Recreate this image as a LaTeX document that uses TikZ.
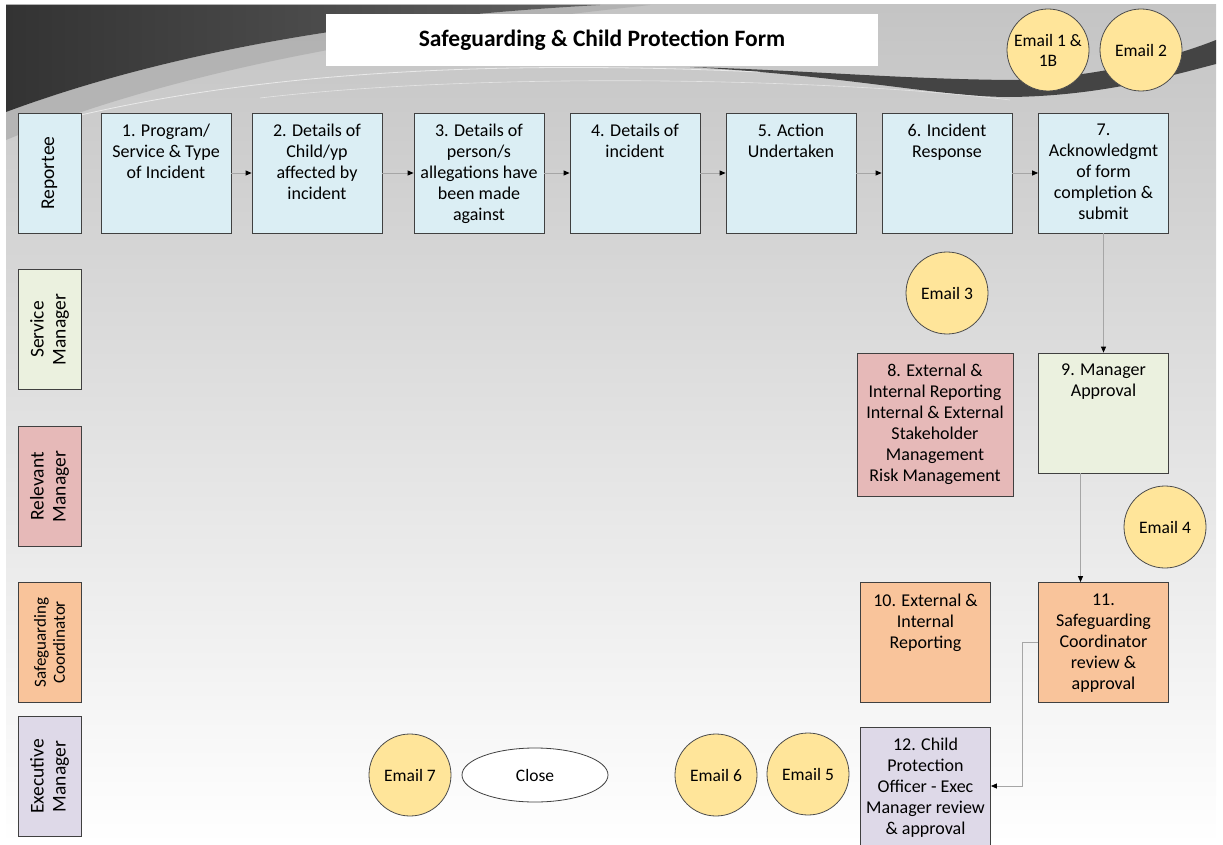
\documentclass[tikz,border=0pt]{standalone}
\usepackage{fontspec}
\setmainfont{Carlito}
\usetikzlibrary{shapes.geometric, arrows.meta, positioning}

\definecolor{stageblue}{HTML}{DBEEF4}
\definecolor{stagegreen}{HTML}{EBF1DF}
\definecolor{stagepink}{HTML}{E6B9B8}
\definecolor{stageorange}{HTML}{F9C49B}
\definecolor{stagelilac}{HTML}{DED9E8}
\definecolor{emailyellow}{HTML}{FFE59A}
\definecolor{bgtop}{HTML}{C4C4C4}
\definecolor{bgmid}{HTML}{E2E2E2}
\definecolor{swoosh}{HTML}{444444}

\tikzset{
    stage/.style={draw=black!75, line width=0.8pt, minimum width=130pt,
        minimum height=120pt, inner sep=0pt, label={[stagetxt]north:{#1}}},
    stagetxt/.style={anchor=north, yshift=-8pt, align=center,
        font=\fontsize{18}{21}\selectfont},
    lane/.style={draw=black!75, line width=0.8pt, minimum width=120pt,
        minimum height=63pt, inner sep=0pt, rotate=90, align=center,
        font=\fontsize{19.5}{22}\selectfont},
    email/.style={circle, draw=black!70, line width=0.8pt, fill=emailyellow,
        minimum size=82pt, inner sep=1pt, align=center,
        font=\fontsize{17.5}{20}\selectfont},
    flow/.style={draw=black!35, line width=0.8pt,
        -{Triangle[length=6pt,width=5pt,color=black]}}
}

\begin{document}
\begin{tikzpicture}[x=1pt, y=-1pt]
    \useasboundingbox (0,0) rectangle (1223,845);
    % background
    \shade[top color=bgtop, middle color=bgmid, bottom color=white]
        (6,5) rectangle (1216,845);
    \fill[black!35, opacity=.6] (6,112) .. controls (200,40) and (420,15) .. (600,5)
        -- (650,5) .. controls (440,28) and (200,60) .. (6,140) -- cycle;
    \shade[left color=black!80, right color=black!62]
        (6,5) -- (600,5) .. controls (420,15) and (200,40) .. (6,112) -- cycle;
    \fill[swoosh] (690,67) .. controls (850,76) and (940,97) .. (1010,97)
        .. controls (1100,96) and (1170,76) .. (1216,64) -- (1216,40)
        .. controls (1150,66) and (1070,79) .. (1010,80)
        .. controls (900,79) and (800,70) .. (690,67) -- cycle;
    \draw[white, opacity=.6, line width=0.8pt]
        (40,125) .. controls (250,70) and (500,60) .. (760,72);
    \draw[white, opacity=.5, line width=0.6pt]
        (260,98) .. controls (500,70) and (850,80) .. (1010,100);

    % title
    \node[fill=white, minimum width=552pt, minimum height=52pt,
        font=\fontsize{23.5}{26}\selectfont\bfseries] (title) at (602,40)
        {Safeguarding \& Child Protection Form};

    % lanes
    \node[lane, fill=stageblue] (lrep) at (49.5,173) {Reportee};
    \node[lane, fill=stagegreen] (lsm) at (49.5,329.5) {Service\\Manager};
    \node[lane, fill=stagepink] (lrm) at (49.5,486.5) {Relevant\\Manager};
    \node[lane, fill=stageorange, font=\fontsize{17}{19}\selectfont] (lsc)
        at (49.5,642.5) {Safeguarding\\Coordinator};
    \node[lane, fill=stagelilac] (lem) at (49.5,776.5) {Executive\\Manager};

    % reportee steps
    \node[stage={1. Program/\\Service \& Type\\of Incident}, fill=stageblue]
        (s1) at (166,173) {};
    \node[stage={2. Details of\\Child/yp\\affected by\\incident}, fill=stageblue]
        (s2) at (317,173) {};
    \node[stage={3. Details of\\person/s\\allegations have\\been made\\against},
        fill=stageblue] (s3) at (479,173) {};
    \node[stage={4. Details of\\incident}, fill=stageblue] (s4) at (635,173) {};
    \node[stage={5. Action\\Undertaken}, fill=stageblue] (s5) at (791,173) {};
    \node[stage={6. Incident\\Response}, fill=stageblue] (s6) at (947,173) {};
    \node[stage={7.\\Acknowledgmt\\of form\\completion \&\\submit},
        fill=stageblue] (s7) at (1103.5,173) {};

    % managers and coordinator
    \node[stage={8. External \&\\Internal Reporting\\Internal \& External\\Stakeholder\\Management\\Risk Management},
        fill=stagepink, minimum width=156pt, minimum height=143pt]
        (s8) at (935,424.5) {};
    \node[stage={9. Manager\\Approval}, fill=stagegreen] (s9) at (1103.5,413) {};
    \node[stage={10. External \&\\Internal\\Reporting}, fill=stageorange]
        (s10) at (925.5,642.5) {};
    \node[stage={11.\\Safeguarding\\Coordinator\\review \&\\approval},
        fill=stageorange] (s11) at (1103.5,642.5) {};
    \node[stage={12. Child\\Protection\\Officer - Exec\\Manager review\\\& approval},
        fill=stagelilac, minimum height=118pt] (s12) at (925.5,786) {};

    % emails
    \node[email] (e1) at (1048,50) {Email 1 \&\\1B};
    \node[email] (e2) at (1141,50) {Email 2};
    \node[email] (e3) at (947,293) {Email 3};
    \node[email] (e4) at (1165,527) {Email 4};
    \node[email] (e5) at (808,774) {Email 5};
    \node[email] (e6) at (716,775) {Email 6};
    \node[email] (e7) at (410,775) {Email 7};
    \node[ellipse, draw=black!75, line width=0.8pt, fill=white,
        minimum width=146pt, minimum height=54pt,
        font=\fontsize{17.5}{21}\selectfont] (close) at (535,775) {Close};

    % connectors
    \foreach \a/\b in {s1/s2, s2/s3, s3/s4, s4/s5, s5/s6, s6/s7}
        \draw[flow] (\a.east) -- (\b.west);
    \draw[flow] (s7.south) -- (s9.north);
    \draw[flow] ([xshift=-23pt]s9.south) -- ([xshift=-23pt]s11.north);
    \draw[flow] (s11.west) -- ++(-16,0) |- (s12.east);
\end{tikzpicture}
\end{document}
